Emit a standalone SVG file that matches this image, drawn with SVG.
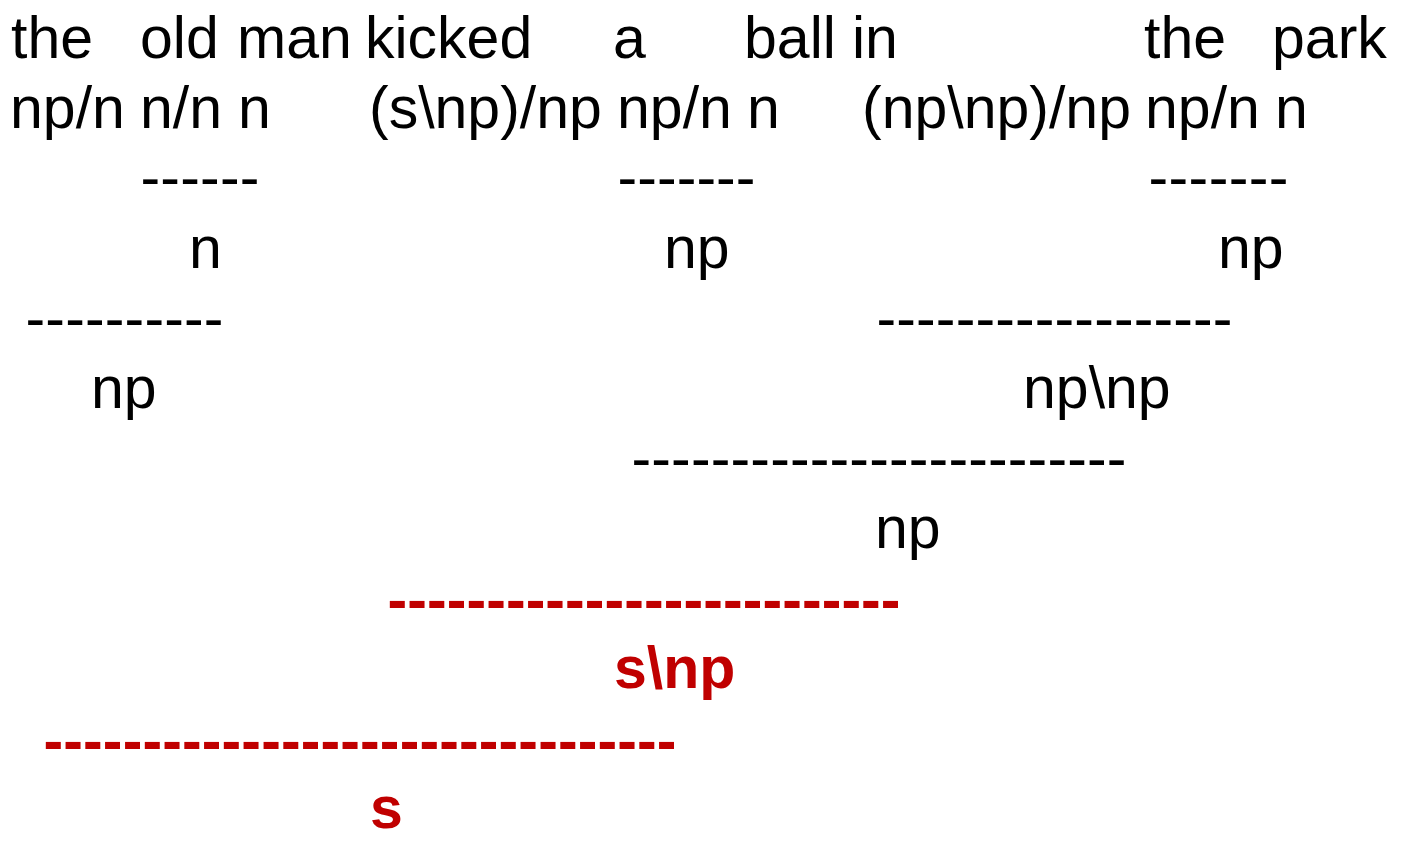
<svg xmlns="http://www.w3.org/2000/svg" width="1402" height="843" viewBox="0 0 1402 843">
<style>
text{font-family:"Liberation Sans",Arial,sans-serif;font-size:59px;fill:#000}
.r{fill:#C00000;font-weight:bold}
</style>
<rect width="1402" height="843" fill="#fff"/>
<g id="words">
<text x="11" y="58">the</text>
<text x="140" y="58">old</text>
<text x="237" y="58">man</text>
<text x="365" y="58">kicked</text>
<text x="613" y="58">a</text>
<text x="744" y="58">ball</text>
<text x="852" y="58">in</text>
<text x="1144" y="58">the</text>
<text x="1272" y="58">park</text>
</g>
<g id="categories">
<text x="10" y="128">np/n</text>
<text x="140" y="128">n/n</text>
<text x="238" y="128">n</text>
<text x="369" y="128">(s\np)/np</text>
<text x="617" y="128">np/n</text>
<text x="747" y="128">n</text>
<text x="862" y="128">(np\np)/np</text>
<text x="1145" y="128">np/n</text>
<text x="1275" y="128">n</text>
</g>
<g id="node-n"><text x="189" y="268">n</text></g>
<g id="node-np-ball"><text x="664" y="268">np</text></g>
<g id="node-np-park"><text x="1218" y="268">np</text></g>
<g id="node-np-man"><text x="91" y="408">np</text></g>
<g id="node-npnp"><text x="1023" y="408">np\np</text></g>
<g id="node-np-ballpark"><text x="875" y="548">np</text></g>
<g id="node-snp"><text class="r" x="614" y="688">s\np</text></g>
<g id="node-s"><text class="r" x="370" y="828">s</text></g>
<g id="connectors">
<text x="140.5" y="197" textLength="119" lengthAdjust="spacing">------</text>
<text x="617.5" y="197" textLength="138" lengthAdjust="spacing">-------</text>
<text x="1148.5" y="197" textLength="140" lengthAdjust="spacing">-------</text>
<text x="25.5" y="338" textLength="198" lengthAdjust="spacing">----------</text>
<text x="876.5" y="338" textLength="356" lengthAdjust="spacing">------------------</text>
<text x="631.5" y="478" textLength="495" lengthAdjust="spacing">-------------------------</text>
<text class="r" x="387.5" y="620" textLength="513" lengthAdjust="spacing">--------------------------</text>
<text class="r" x="43.5" y="761" textLength="633" lengthAdjust="spacing">--------------------------------</text>
</g>
</svg>
